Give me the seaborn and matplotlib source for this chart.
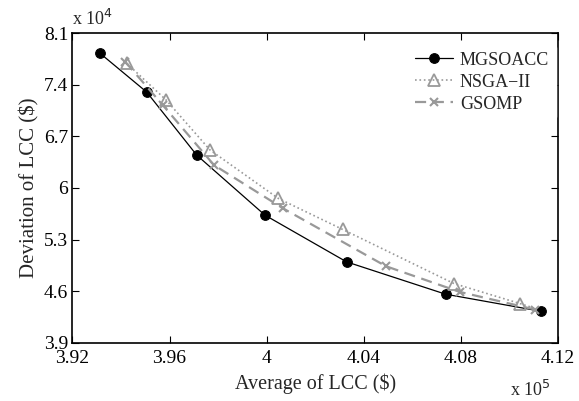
import numpy as np
import pandas as pd
import matplotlib
matplotlib.use("Agg")
import matplotlib.pyplot as plt
import seaborn as sns

# values in units of 1e5 (x) and 1e4 (y)
mg_x = [3.9314, 3.9506, 3.9712, 3.9993, 4.0329, 4.0737, 4.1128]
mg_y = [7.828, 7.302, 6.446, 5.631, 4.997, 4.558, 4.327]

ns_x = [3.9424, 3.9586, 3.9767, 4.0048, 4.0313, 4.0771, 4.1042, 4.1110]
ns_y = [7.692, 7.194, 6.515, 5.858, 5.437, 4.703, 4.432, 4.360]

gs_x = [3.9417, 3.9572, 3.9783, 4.0068, 4.0491, 4.0795, 4.1105]
gs_y = [7.715, 7.126, 6.311, 5.722, 4.938, 4.589, 4.350]

xticks = [3.92, 3.96, 4.00, 4.04, 4.08, 4.12]
xlabels = ["3.92", "3.96", "4", "4.04", "4.08", "4.12"]
yticks = [3.9, 4.6, 5.3, 6.0, 6.7, 7.4, 8.1]
ylabels = ["3.9", "4.6", "5.3", "6", "6.7", "7.4", "8.1"]

sns.set_style("ticks")
plt.rcParams['font.family'] = ['Liberation Serif', 'DejaVu Serif']

fig = plt.figure(figsize=(5.79, 4.01), dpi=100)
ax = fig.add_axes([0.125, 0.1454, 0.839, 0.7716])

gray = "#999999"
sns.lineplot(x=mg_x, y=mg_y, ax=ax, sort=False, color="black", lw=0.9,
             marker="o", markersize=7, markerfacecolor="black",
             markeredgecolor="black", label="MGSOACC")
sns.lineplot(x=ns_x, y=ns_y, ax=ax, sort=False, color=gray, lw=1.2,
             linestyle=":", marker="^", markersize=8, markerfacecolor="none",
             markeredgecolor=gray, markeredgewidth=1.3, label="NSGA\u2212II",
             markevery=list(range(len(ns_x) - 1)))
sns.lineplot(x=gs_x, y=gs_y, ax=ax, sort=False, color=gray, lw=1.6,
             linestyle=(0, (5, 3)), marker="x", markersize=6,
             markeredgecolor=gray, markeredgewidth=1.5, label="GSOMP")

ax.set_xlim(3.92, 4.12)
ax.set_ylim(3.9, 8.1)
ax.set_xticks(xticks)
ax.set_xticklabels(xlabels)
ax.set_yticks(yticks)
ax.set_yticklabels(ylabels)
ax.tick_params(direction="in", top=True, right=True, labelsize=14,
               length=5, width=0.8, colors="black")
ax.tick_params(axis="x", pad=5)
ax.tick_params(axis="y", pad=3)
for s in ax.spines.values():
    s.set_visible(True)
    s.set_linewidth(1.2)
    s.set_color("black")

ax.set_xlabel("Average of LCC ($)", fontsize=14.5, labelpad=5)
ax.set_ylabel("Deviation of LCC ($)", fontsize=15, labelpad=3)

ax.text(0.0, 1.015, r"x 10$^4$", transform=ax.transAxes, fontsize=13,
        ha="left", va="bottom")
fig.text(530 / 579, 1 - 396 / 401, r"x 10$^5$", fontsize=13,
         ha="center", va="baseline")

leg = ax.legend(loc="upper right", bbox_to_anchor=(1.0, 0.97), fontsize=13,
                frameon=True, handlelength=2.1, borderaxespad=0.1,
                labelspacing=0.28, handletextpad=0.4)
leg.get_frame().set_edgecolor("white")
leg.get_frame().set_facecolor("white")
leg.get_frame().set_alpha(1)

fig.savefig("out.png", dpi=100)
